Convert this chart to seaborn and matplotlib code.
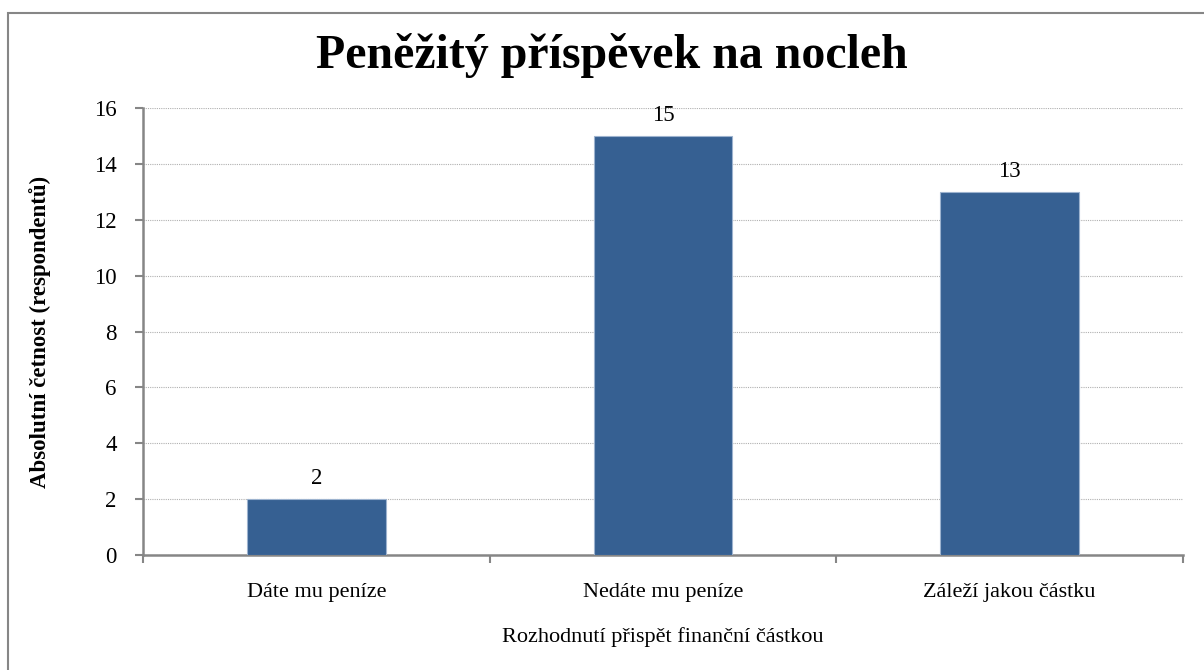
import pandas as pd
import seaborn as sns
import matplotlib.pyplot as plt
from matplotlib.patches import Rectangle

# Chart data
categories = ["Dáte mu peníze", "Nedáte mu peníze", "Záleží jakou částku"]
counts = [2, 15, 13]
y_ticks = [0, 2, 4, 6, 8, 10, 12, 14, 16]

df = pd.DataFrame({"odpoved": categories, "pocet": counts})

sns.set_style("white")
plt.rcParams["font.family"] = ["Liberation Serif", "DejaVu Serif"]
plt.rcParams["text.color"] = "black"
plt.rcParams["axes.labelcolor"] = "black"
plt.rcParams["xtick.labelcolor"] = "black"
plt.rcParams["ytick.labelcolor"] = "black"

fig = plt.figure(figsize=(12.04, 6.7), dpi=100)
ax = fig.add_axes([143 / 1204, 1 - 555 / 670, 1040 / 1204, 447 / 670])

# Outer frame around the chart (runs off the right and bottom edges)
fig.patches.append(Rectangle((8 / 1204, -0.1), 1.2, 1.1 - 13 / 670,
                             transform=fig.transFigure, fill=False,
                             edgecolor="#868686", linewidth=1.5))

sns.barplot(data=df, x="odpoved", y="pocet", color="#366092", width=0.4,
            saturation=1, ax=ax, zorder=3)
for bar in ax.patches:
    bar.set_edgecolor("#9db3cf")
    bar.set_linewidth(0.8)

# value labels above the bars
for i, v in enumerate(counts):
    ax.text(i, v + 0.54, str(v), ha="center", va="baseline", fontsize=16.5)

ax.set_xlim(-0.5, 2.5)
ax.set_ylim(0, 16)
ax.set_yticks(y_ticks)
ax.tick_params(axis="y", labelsize=16.5, length=6, width=1.5, color="#868686",
               direction="out", left=True, pad=13)
ax.set_xticks([-0.5, 0.5, 1.5, 2.5], minor=False)
ax.set_xticklabels([])
ax.set_xticks([0, 1, 2], minor=True)
ax.set_xticklabels(categories, minor=True, fontsize=16)
ax.tick_params(axis="x", which="major", length=6, width=1.5, color="#868686",
               direction="out", bottom=True)
ax.tick_params(axis="x", which="minor", length=0, pad=20)

ax.grid(axis="y", color="#b0b0b0", linestyle=(0, (1, 1)), linewidth=0.8, zorder=0)
ax.set_axisbelow(True)
for side in ["top", "right"]:
    ax.spines[side].set_visible(False)
for side in ["left", "bottom"]:
    ax.spines[side].set_color("#868686")
    ax.spines[side].set_linewidth(1.8)

ax.set_xlabel("Rozhodnutí přispět finanční částkou", fontsize=16, labelpad=18)
ax.set_ylabel("Absolutní četnost (respondentů)", fontsize=16.5, fontweight="bold",
              va="center")
ax.yaxis.set_label_coords(-103 / 1040, 0.5)
fig.text(612 / 1204, 1 - 55 / 670, "Peněžitý příspěvek na nocleh", ha="center",
         va="center", fontsize=34.5, fontweight="bold")

plt.savefig("out.png", dpi=100)
